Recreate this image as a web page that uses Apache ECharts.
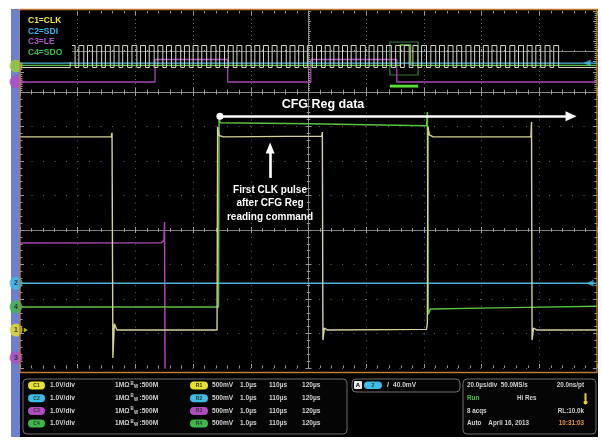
<!DOCTYPE html>
<html><head><meta charset="utf-8">
<script src="https://cdn.jsdelivr.net/npm/echarts@6/dist/echarts.min.js"></script>
<style>html,body{margin:0;padding:0;background:#fff}#c{width:602px;height:440px}</style>
</head><body><div id="c"></div>
<script>
// ================= DATA =================
// Main window: time in µs relative to screen centre (20 µs/div), level in screen divisions
const clkMain = [[-100,2.70],[-68.4,2.70],[-68.1,2.82],[-67.8,-3.71],[-67.3,-2.72],[-66.4,-2.90],[-31.7,-2.90],[-31.5,2.99],[-31.0,2.74],[-29.5,2.70],[4.6,2.72],[4.8,2.84],[5.0,-3.19],[5.5,-2.84],[6.6,-2.90],[40.9,-2.88],[41.2,-2.70],[41.4,3.00],[41.9,2.76],[43.2,2.70],[77.1,2.70],[77.3,3.13],[77.5,-3.19],[78.0,-2.84],[79.2,-2.90],[100,-2.90]];
const sdoMain = [[-100,-2.23],[-31.2,-2.23],[-31.0,3.25],[-30.6,3.11],[0,3.08],[40.9,3.02],[41.2,3.42],[41.5,-2.45],[42.2,-2.29],[70,-2.25],[100,-2.21]];
const sdiMain = [[-100,-1.54],[100,-1.54]];
const leMain  = [[-100,-0.38],[-51.0,-0.37],[-50.1,-0.30],[-49.9,0.23],[-49.7,-4.4],[100,-4.4]];
const groundLevels = [-2.90, -1.54, -3.70, -2.23];          // C1, C2, C3, C4 markers
const triggerLevel = -1.54;

// Overview (whole record): position in divisions 0..10, level in overview divisions
const ovClkRise = [0.87,1.02,1.17,1.33,1.48,1.63,1.78,1.94,2.09,2.24,2.39,2.54,2.70,2.85,3.00,3.15,3.31,3.46,3.61,3.76,3.92,4.07,4.22,4.37,4.53,4.68,4.83,4.98,5.14,5.29,5.44,5.59,5.74,5.90,6.05,6.20,6.35,6.51,6.66,6.81,6.96,7.12,7.27,7.42,7.57,7.73,7.88,8.03,8.18,8.33,8.49,8.64,8.79,8.94,9.10,9.25];
const ovClkHighTime = 0.085;
const ovClkLevels = [-1.58, 0.59];
const ovSdo = [[0,-1.38],[6.59,-1.38],[6.59,0.64],[6.77,0.64],[6.77,-1.38],[10,-1.38]];
const ovSdi = [[0,-1.14],[10,-1.14]];
const ovLe  = [[0,-3.01],[2.34,-3.01],[2.34,-0.79],[3.60,-0.79],[3.60,-3.01],[5.04,-3.01],[5.04,-0.79],[6.53,-0.79],[6.53,-3.01],[10,-3.01]];
const ovZoomWindow = [6.41, 6.90];
const ovGround = [-1.43, -3.01];

// Texts
const legendLabels = ['C1=CLK','C2=SDI','C3=LE','C4=SDO'];
const chScale = ['1.0V/div','1.0V/div','1.0V/div','1.0V/div'];
const chImp = ['1MΩ','1MΩ','1MΩ','1MΩ'];
const chBw = [':500M',':500M',':500M',':500M'];
const refScale = ['500mV','500mV','500mV','500mV'];
const refA = ['1.0µs','1.0µs','1.0µs','1.0µs'];
const refB = ['110µs','110µs','110µs','110µs'];
const refC = ['120µs','120µs','120µs','120µs'];
const triggerText = '40.0mV';
const acqLeft = ['20.0µs/div  50.0MS/s','Run','8 acqs','Auto    April 16, 2013'];
const acqMid = ['', 'Hi Res', '', ''];
const acqRight = ['20.0ns/pt','','RL:10.0k','10:31:03'];

// ================= BUILD =================
const C = {clk:'#d4d29a', sdo:'#5cc043', sdi:'#4ab4dc', le:'#a846b4', ovclk:'#d8d8c6'};
const chipCol = ['#e8e02a','#3cbce6','#b04cc0','#3cb848'];
const legendCol = ['#f2e33a','#3db6f2','#b24fcc','#39c04a'];

const ovClk = [[0, ovClkLevels[0]]];
ovClkRise.forEach(r => {
  ovClk.push([r, ovClkLevels[0]], [r, ovClkLevels[1]], [r + ovClkHighTime, ovClkLevels[1]], [r + ovClkHighTime, ovClkLevels[0]]);
});
ovClk.push([10, ovClkLevels[0]]);

const TICK = '#9a9a9a';
function edgeAxis(kind, gridIndex, pos, min, max, interval, split, dash) {
  return {type:'value', gridIndex, position:pos, min, max, interval,
    axisLine:{show:false, onZero:false}, axisLabel:{show:false},
    axisTick:{show:true, inside:true, length:4, lineStyle:{color:TICK, width:1}},
    minorTick:{show:true, splitNumber:5, length:2.5, lineStyle:{color:TICK, width:1}},
    splitLine:{show:!!split, lineStyle:{color:'#646464', type:dash||'dotted', width:1}},
    minorSplitLine:{show:false}};
}
function centerAxis(gridIndex, pos, min, max, interval, tickLen) {
  return {type:'value', gridIndex, position:pos, min, max, interval,
    axisLine:{show:true, onZero:true, lineStyle:{color:'#808080', width:1}},
    axisLabel:{show:false},
    axisTick:{show:true, inside:true, length:tickLen, lineStyle:{color:TICK}},
    minorTick:{show:true, splitNumber:5, length:tickLen*0.6, lineStyle:{color:TICK}},
    splitLine:{show:false}};
}
const MAIN = {left:20, top:92, width:577, height:276};
const OV = {left:20, top:11, width:577, height:81};

const FF = '"Liberation Sans", Arial, sans-serif';
function txt(x, y, text, size, color, align, weight) {
  align = align || 'left';
  return {type:'text', x, y, z:120, silent:true,
    style:{text, fill:color, font:(weight||'bold') + ' ' + size + 'px ' + FF,
      align, verticalAlign:'middle', textAlign:align, textVerticalAlign:'middle'}};
}
function rect(x, y, w, h, fill, stroke, r, z) {
  return {type:'rect', z:z==null?110:z, silent:true, shape:{x, y, width:w, height:h, r:r||0},
    style:{fill:fill, stroke:stroke||null, lineWidth:1}};
}

const rowsY = [385.5, 398.2, 410.9, 423.6];
const g = [];
g.push(rect(11, 9, 587, 428, '#000', null, 0, -100));
g.push(rect(11, 9, 9, 428, '#6d80d0', null, 0, -99));
g.push({type:'rect', z:90, silent:true, shape:{x:20, y:9.5, width:577, height:363}, style:{fill:null, stroke:'#c07a35', lineWidth:1.3}});
// legend box
g.push(rect(20, 11, 52, 51, '#000', null, 0, 95));
legendLabels.forEach((t, i) => g.push(txt(28, 21 + i * 10.5, t, 8.5, legendCol[i])));
// annotations
g.push(txt(323, 104.5, 'CFG Reg data', 12.5, '#ffffff', 'center'));
['First CLK pulse', 'after CFG Reg', 'reading command'].forEach((t, i) => g.push(txt(270, 190 + i * 13.5, t, 10, '#ffffff', 'center')));
// bottom boxes
g.push(rect(23, 379, 324, 55, '#050505', '#6e6e6e', 4, 100));
g.push(rect(352, 379, 108, 13, '#050505', '#6e6e6e', 4, 100));
g.push(rect(463, 379, 133, 55, '#050505', '#6e6e6e', 4, 100));
const LT = '#d2d2d2';
rowsY.forEach((y, i) => {
  g.push(rect(28, y - 4, 17, 8, chipCol[i], null, 4));
  g.push(txt(36.5, y, 'C' + (i + 1), 5, '#333', 'center'));
  g.push(txt(50, y, chScale[i], 6.6, LT));
  g.push(txt(115, y, chImp[i], 6.6, LT));
  g.push(txt(130.5, y - 2, 'B', 4.5, LT));
  g.push(txt(134, y + 1.5, 'W', 4.5, LT));
  g.push(txt(139.5, y, chBw[i], 6.6, LT));
  g.push(rect(190, y - 4, 18, 8, chipCol[i], null, 4));
  g.push(txt(199, y, 'R' + (i + 1), 5, '#333', 'center'));
  g.push(txt(212, y, refScale[i], 6.6, LT));
  g.push(txt(240, y, refA[i], 6.6, LT));
  g.push(txt(269, y, refB[i], 6.6, LT));
  g.push(txt(302, y, refC[i], 6.6, LT));
  g.push(txt(467, y, acqLeft[i], 6.3, i === 1 ? '#3ccc3c' : LT));
  if (acqMid[i]) g.push(txt(517, y, acqMid[i], 6.3, LT));
  if (acqRight[i]) g.push(txt(584, y, acqRight[i], 6.3, i === 3 ? '#e89a48' : LT, 'right'));
});
// trigger readout
g.push(rect(354, 381, 8, 8, '#e8e8e8', null, 1));
g.push(txt(358, 385.3, 'A', 6, '#000', 'center'));
g.push(rect(364, 381.5, 18, 7.5, chipCol[1], null, 4));
g.push(txt(373, 385.3, '2', 5, '#333', 'center'));
g.push(txt(388, 385.5, '/', 7, '#e0e0e0', 'center'));
g.push(txt(393, 385.5, triggerText, 6.6, LT));
// thermometer icon
g.push(rect(584.5, 393, 2, 8, '#e8d030', null, 1));
g.push({type:'circle', z:110, silent:true, shape:{cx:585.5, cy:402.5, r:2}, style:{fill:'#e8d030'}});

const chart = echarts.init(document.getElementById('c'));
chart.setOption({
  animation:false,
  backgroundColor:'#ffffff',
  grid:[
    Object.assign({outerBoundsMode:'none', containLabel:false}, MAIN),
    Object.assign({outerBoundsMode:'none', containLabel:false}, OV),
    Object.assign({outerBoundsMode:'none', containLabel:false}, MAIN),
    Object.assign({outerBoundsMode:'none', containLabel:false}, OV)
  ],
  xAxis:[
    edgeAxis('x', 0, 'bottom', -100, 100, 20, true, [1, 5.9]),
    Object.assign(edgeAxis('x', 0, 'top', -100, 100, 20, false), {axisLine:{show:true, onZero:false, lineStyle:{color:'#8a8a8a'}}}),
    edgeAxis('x', 1, 'bottom', 0, 10, 1, true, [1, 3]),
    edgeAxis('x', 1, 'top', 0, 10, 1, false),
    centerAxis(2, 'bottom', -100, 100, 20, 3),
    centerAxis(2, 'top', -100, 100, 20, 3),
    centerAxis(3, 'bottom', -5, 5, 1, 2.5)
  ],
  yAxis:[
    edgeAxis('y', 0, 'left', -4, 4, 1, true, [1, 10.5]),
    edgeAxis('y', 0, 'right', -4, 4, 1, false),
    edgeAxis('y', 1, 'left', -4, 4, 1, false),
    edgeAxis('y', 1, 'right', -4, 4, 1, false),
    centerAxis(2, 'left', -4, 4, 1, 3),
    centerAxis(2, 'right', -4, 4, 1, 3),
    centerAxis(3, 'left', -4, 4, 1, 2.5)
  ],
  graphic:{elements:g},
  series:[
    {name:'LE', type:'line', xAxisIndex:0, yAxisIndex:0, data:leMain, showSymbol:false, z:3, lineStyle:{color:C.le, width:1.5}},
    {name:'SDI', type:'line', xAxisIndex:0, yAxisIndex:0, data:sdiMain, showSymbol:false, z:3, lineStyle:{color:C.sdi, width:1.5},
      markLine:{silent:true, animation:false, label:{show:false}, lineStyle:{color:'#ffffff', width:2.6, type:'solid'},
        data:[
          [{coord:[-30.7, 3.30], symbol:'circle', symbolSize:7}, {coord:[91.0, 3.30], symbol:'triangle', symbolSize:[10, 11]}],
          [{coord:[-13.3, 1.51], symbol:'none'}, {coord:[-13.3, 2.38], symbol:'triangle', symbolSize:[9, 11]}]
        ]}},
    {name:'SDO', type:'line', xAxisIndex:0, yAxisIndex:0, data:sdoMain, showSymbol:false, z:4, lineStyle:{color:C.sdo, width:1.5}},
    {name:'CLK', type:'line', xAxisIndex:0, yAxisIndex:0, data:clkMain, showSymbol:false, z:5, lineStyle:{color:C.clk, width:1.4}},
    {name:'markers', type:'scatter', xAxisIndex:0, yAxisIndex:0, clip:false, z:20, symbolSize:13,
      label:{show:true, position:'inside', formatter:p => p.data.name, fontSize:7, fontWeight:'bold', color:'#1a1a1a'},
      data:[
        {name:'2', value:[-101.4, groundLevels[1]], itemStyle:{color:chipCol[1]}},
        {name:'4', value:[-101.4, groundLevels[3]], itemStyle:{color:chipCol[3]}},
        {name:'1', value:[-101.4, groundLevels[0]], itemStyle:{color:chipCol[0]}},
        {name:'3', value:[-101.4, groundLevels[2]], itemStyle:{color:chipCol[2]}}
      ]},
    {name:'arrows', type:'scatter', xAxisIndex:0, yAxisIndex:0, clip:false, z:20, symbol:'triangle',
      data:[
        {value:[97.6, triggerLevel], symbolRotate:90, symbolSize:[7, 7], itemStyle:{color:chipCol[1]}},
        {value:[-98.0, groundLevels[0]], symbolRotate:-90, symbolSize:[5, 4], itemStyle:{color:chipCol[0]}}
      ]},
    {name:'ovLE', type:'line', xAxisIndex:2, yAxisIndex:2, data:ovLe, showSymbol:false, z:3, lineStyle:{color:C.le, width:1.3}},
    {name:'ovSDI', type:'line', xAxisIndex:2, yAxisIndex:2, data:ovSdi, showSymbol:false, z:3, lineStyle:{color:C.sdi, width:1.3}},
    {name:'ovSDO', type:'line', xAxisIndex:2, yAxisIndex:2, data:ovSdo, showSymbol:false, z:4, lineStyle:{color:C.sdo, width:1.3},
      markArea:{silent:true, animation:false, label:{show:false},
        data:[
          [{coord:[ovZoomWindow[0], 0.94], itemStyle:{color:'rgba(0,0,0,0)', borderColor:'#3d7a3d', borderWidth:1.2}}, {coord:[ovZoomWindow[1], -2.32]}],
          [{coord:[ovZoomWindow[0], -3.28], itemStyle:{color:'#58e034', borderWidth:0}}, {coord:[ovZoomWindow[1], -3.56]}]
        ]}},
    {name:'ovCLK', type:'line', xAxisIndex:2, yAxisIndex:2, data:ovClk, showSymbol:false, z:5, lineStyle:{color:C.ovclk, width:1}},
    {name:'ovMarkers', type:'scatter', xAxisIndex:2, yAxisIndex:2, clip:false, z:20, symbolSize:13,
      data:[
        {value:[-0.07, ovGround[0]], itemStyle:{color:'#9ed030'}},
        {value:[-0.07, ovGround[1]], itemStyle:{color:chipCol[2]}},
        {value:[9.83, ovSdi[0][1]], symbol:'triangle', symbolRotate:90, symbolSize:[7, 7], itemStyle:{color:chipCol[1]}}
      ]}
  ]
});
</script></body></html>
